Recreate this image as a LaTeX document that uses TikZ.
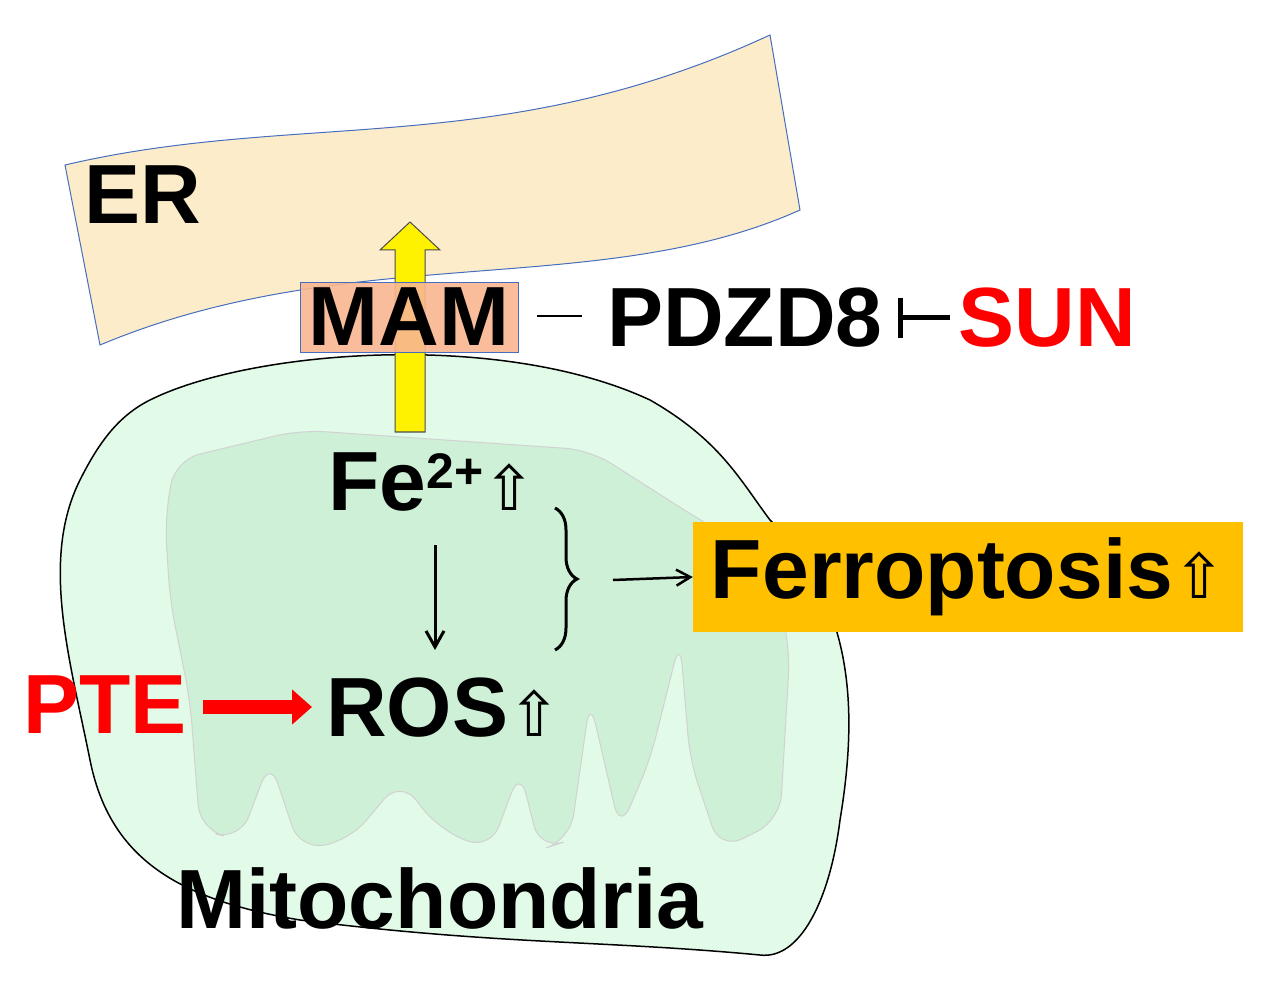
\documentclass[tikz,border=0pt]{standalone}
\usepackage{fontspec}
\setmainfont{Liberation Sans}
\newfontfamily\djv{DejaVu Sans}
\usetikzlibrary{decorations.pathreplacing,arrows.meta}
\definecolor{erfill}{RGB}{253,236,202}
\definecolor{erline}{RGB}{70,110,190}
\definecolor{mito}{RGB}{226,250,232}
\definecolor{crista}{RGB}{205,240,215}
\definecolor{mam}{RGB}{248,182,145}
\definecolor{ferro}{RGB}{255,192,0}
\tikzset{lbl/.style={font=\fontsize{84}{84}\selectfont\bfseries,inner sep=0pt},
 redtxt/.style={text=red}}
\newcommand{\upa}{{\djv\fontsize{62}{62}\selectfont\mdseries ⇧}}
\begin{document}
\begin{tikzpicture}[x=1pt,y=-1pt]
\useasboundingbox (0,0) rectangle (1278,992);
% mitochondria
\draw[fill=mito,line width=1.5pt] (150,400) .. controls (250,350) and (500,330) .. (650,400)
 .. controls (720,440) and (740,480) .. (770,520) .. controls (850,600) and (860,700) .. (840,820)
 .. controls (830,900) and (800,960) .. (760,955) .. controls (600,940) and (500,945) .. (300,920)
 .. controls (180,900) and (110,860) .. (90,760) .. controls (70,660) and (40,560) .. (80,480)
 .. controls (100,440) and (120,415) .. (150,400) -- cycle;
% cristae
\draw[draw=gray!35,fill=crista,line width=1pt,rounded corners=25pt]
 (165,520) -- (175,460) -- (300,430) -- (590,450) -- (700,520) -- (770,560) -- (790,650) -- (780,820)
 -- (720,850) -- (690,760) -- (680,640) -- (650,760) -- (620,830) -- (590,700) -- (570,840)
 -- (540,850) -- (520,770) -- (490,850) -- (440,830) -- (400,780) -- (350,840) -- (300,850)
 -- (270,760) -- (240,840) -- (200,830) -- (190,700) -- (170,600) -- cycle;
% ER
\draw[erline,fill=erfill,line width=1pt] (65,165) .. controls (300,110) and (500,160) .. (770,35)
 -- (800,210) .. controls (600,300) and (350,240) .. (100,345) -- cycle;
\node[lbl] (er) at (143,195) {ER};
% yellow arrow
\draw[fill=yellow,draw=black!70,line width=1pt] (395,432) -- (395,250) -- (380,250) -- (410,222) -- (440,250) -- (425,250) -- (425,432) -- cycle;
% MAM
\node[lbl,fill=mam,fill opacity=0.9,text opacity=1,draw=erline,minimum width=218pt,minimum height=70pt] (mam) at (409,317) {MAM};
\node[lbl] (pdzd) at (745,318) {PDZD8};
\draw[line width=2pt] (537,316) -- (582,316);
\node[lbl,redtxt] (sun) at (1047,318) {SUN};
\draw[line width=5pt] (950,318) -- (900,318);
\draw[line width=5pt] (900,298) -- (900,338);
% Fe and ROS
\node[lbl] (fe) at (432,482) {Fe\raisebox{22pt}{\fontsize{50}{50}\selectfont 2+}\upa};
\node[lbl] (ros) at (443,708) {ROS\upa};
\draw[-{Straight Barb[length=16pt,width=18pt]},line width=3pt] (435,545) -- (435,650);
\node[lbl,redtxt] (pte) at (105,705) {PTE};
\coordinate (pa) at (203,707);
\coordinate (pb) at (312,707);
\draw[red,line width=14pt,-{Triangle[length=20pt,width=34pt]}] (pa) -- (pb);
% brace
\draw[decorate,decoration={brace,amplitude=22pt},line width=3pt] (555,508) -- (555,650);
\node[lbl,fill=ferro,minimum width=550pt,minimum height=110pt] (fer) at (968,577) {Ferroptosis\upa};
\draw[-{Straight Barb[length=14pt,width=16pt]},line width=2.5pt] (613,580) -- (fer.west);
\node[lbl] (mit) at (440,898) {Mitochondria};
\end{tikzpicture}
\end{document}
